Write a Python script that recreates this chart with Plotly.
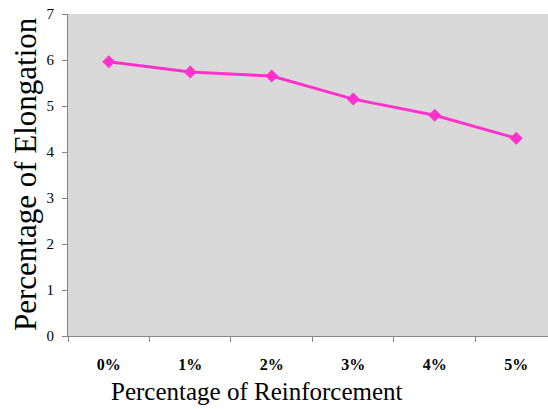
import plotly.graph_objects as go

categories = ["0%", "1%", "2%", "3%", "4%", "5%"]
elongation = [5.96, 5.74, 5.65, 5.15, 4.80, 4.30]
y_ticks = [0, 1, 2, 3, 4, 5, 6, 7]

serif = "Liberation Serif"

fig = go.Figure()
fig.add_trace(go.Scatter(
    x=categories,
    y=elongation,
    mode="lines+markers",
    line=dict(color="#ff33cc", width=3),
    marker=dict(symbol="diamond", size=10, color="#ff33cc"),
    showlegend=False,
))

fig.update_layout(
    width=548,
    height=409,
    margin=dict(l=68, r=0, t=14, b=73),
    paper_bgcolor="white",
    plot_bgcolor="#d9d9d9",
    font=dict(family=serif, color="black", size=15),
)
fig.update_xaxes(
    type="category",
    range=[-0.5, 5.39],
    tickson="boundaries",
    ticks="outside",
    ticklen=5,
    tickcolor="#868686",
    showline=True,
    linecolor="#868686",
    linewidth=1,
    showgrid=False,
    zeroline=False,
    tickfont_family=serif,
    tickfont_size=16,
    tickfont_weight="bold",
    tickfont_color="black",
    ticklabelstandoff=14,
)
fig.update_yaxes(
    range=[0, 7],
    tickvals=y_ticks,
    ticks="outside",
    ticklen=5,
    tickcolor="#868686",
    showline=True,
    linecolor="#868686",
    linewidth=1,
    showgrid=False,
    zeroline=False,
    tickfont_family=serif,
    tickfont_size=15,
    tickfont_color="black",
    ticklabelstandoff=5,
)

# axis titles positioned in page pixels, converted to paper coordinates
plot_w = 548 - 68
plot_h = 409 - 14 - 73
titles = [
    ("Percentage of Reinforcement", 257, 391, 0, 25),
    ("Percentage of Elongation", 25, 174, -90, 31),
]
for text, px, py, angle, size in titles:
    fig.add_annotation(
        text=text, textangle=angle,
        x=(px - 68) / plot_w, y=(336 - py) / plot_h,
        xref="paper", yref="paper", xanchor="center", yanchor="middle",
        showarrow=False, font=dict(family=serif, size=size, color="black"),
    )

fig.write_html("out.html")
